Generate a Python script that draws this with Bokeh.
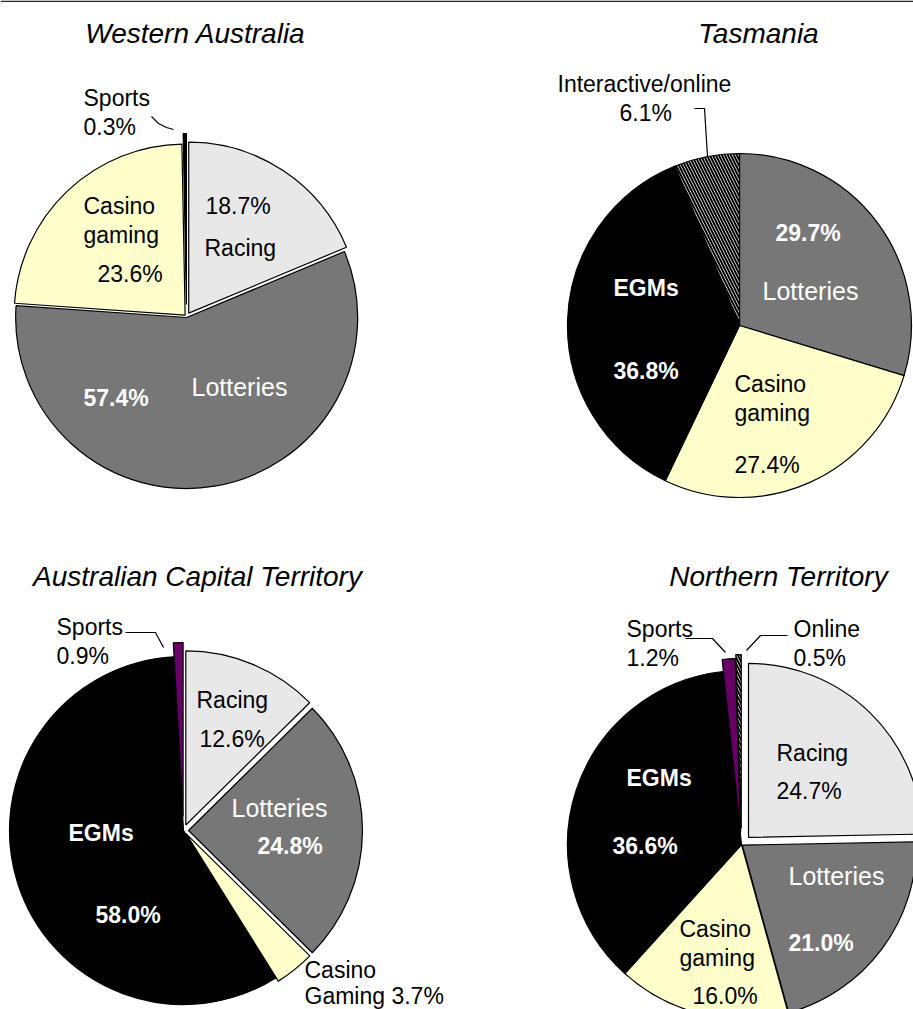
import math
from bokeh.plotting import figure
from bokeh.models import ColumnDataSource, Range1d
from bokeh.core.properties import value, field
from bokeh.embed import file_html
from bokeh.resources import INLINE

# ---------------- data ----------------
titles = ["Western Australia", "Tasmania", "Australian Capital Territory", "Northern Territory"]

wa_categories = ["Racing", "Lotteries", "Casino gaming", "Sports"]
wa_shares = [18.7, 57.4, 23.6, 0.3]

tas_categories = ["Lotteries", "Casino gaming", "EGMs", "Interactive/online"]
tas_shares = [29.7, 27.4, 36.8, 6.1]

act_categories = ["Racing", "Lotteries", "Casino Gaming", "EGMs", "Sports"]
act_shares = [12.6, 24.8, 3.7, 58.0, 0.9]

nt_categories = ["Racing", "Lotteries", "Casino gaming", "EGMs", "Sports", "Online"]
nt_shares = [24.7, 21.0, 16.0, 36.6, 1.2, 0.5]

# ---------------- style ----------------
colors = {"Racing": "#E8E8E8", "Lotteries": "#777777", "Casino gaming": "#FFFFCC",
          "Casino Gaming": "#FFFFCC", "EGMs": "#000000", "Sports": "#660066",
          "Interactive/online": "#FFFFFF", "Online": "#FFFFFF"}
hatched = {"Interactive/online", "Online"}

FONT = "Liberation Sans"
TITLE_SIZE = "28px"

W, H = 913, 1009
PH = 1009  # reference page height, used to flip pixel y into data y

# layout: (categories, shares, centre x, centre y (px), radius, explode by category, title x, title baseline, colour overrides)
pies = [
    (wa_categories, wa_shares, 186, 316, 171, {"Racing": 4, "Lotteries": 1, "Casino gaming": 2, "Sports": 12}, 195, 33,
     {"Sports": "#000000"}),
    (tas_categories, tas_shares, 739, 325, 172, {}, 758, 33, {}),
    (act_categories, act_shares, 183, 830, 174, {"Racing": 6, "Lotteries": 5, "Casino Gaming": 4, "Sports": 14}, 197, 576, {}),
    (nt_categories, nt_shares, 741, 844, 174, {"Racing": 10, "Lotteries": 1, "Sports": 12, "Online": 16}, 778, 576, {}),
]

# label layout: (pie index, category, template, x px, baseline px, kind)
labels = [
    (0, "Sports", "Sports", 83, 97, "dark"), (0, "Sports", "{p}", 83, 126, "dark"),
    (0, "Casino gaming", "Casino", 83, 205, "dark"), (0, "Casino gaming", "gaming", 83, 234, "dark"),
    (0, "Casino gaming", "{p}", 97, 273, "dark"),
    (0, "Racing", "{p}", 205, 205, "dark"), (0, "Racing", "Racing", 204, 247, "dark"),
    (0, "Lotteries", "{p}", 83, 397, "lightbold"), (0, "Lotteries", "Lotteries", 191, 386, "light"),

    (1, "Interactive/online", "Interactive/online", 557, 83, "dark"),
    (1, "Interactive/online", "{p}", 619, 112, "dark"),
    (1, "Lotteries", "{p}", 775, 232, "lightbold"), (1, "Lotteries", "Lotteries", 762, 290, "light"),
    (1, "EGMs", "EGMs", 613, 287, "lightbold"), (1, "EGMs", "{p}", 613, 370, "lightbold"),
    (1, "Casino gaming", "Casino", 734, 383, "dark"), (1, "Casino gaming", "gaming", 734, 412, "dark"),
    (1, "Casino gaming", "{p}", 734, 464, "dark"),

    (2, "Sports", "Sports", 56, 626, "dark"), (2, "Sports", "{p}", 56, 655, "dark"),
    (2, "Racing", "Racing", 196, 699, "dark"), (2, "Racing", "{p}", 199, 738, "dark"),
    (2, "Lotteries", "Lotteries", 231, 807, "light"), (2, "Lotteries", "{p}", 257, 845, "lightbold"),
    (2, "EGMs", "EGMs", 68, 832, "lightbold"), (2, "EGMs", "{p}", 95, 914, "lightbold"),
    (2, "Casino Gaming", "Casino", 304, 969, "dark"), (2, "Casino Gaming", "Gaming {p}", 304, 995, "dark"),

    (3, "Sports", "Sports", 626, 628, "dark"), (3, "Sports", "{p}", 626, 657, "dark"),
    (3, "Online", "Online", 793, 628, "dark"), (3, "Online", "{p}", 793, 657, "dark"),
    (3, "Racing", "Racing", 776, 752, "dark"), (3, "Racing", "{p}", 776, 790, "dark"),
    (3, "EGMs", "EGMs", 626, 777, "lightbold"), (3, "EGMs", "{p}", 612, 845, "lightbold"),
    (3, "Lotteries", "Lotteries", 788, 875, "light"), (3, "Lotteries", "{p}", 788, 942, "lightbold"),
    (3, "Casino gaming", "Casino", 679, 928, "dark"), (3, "Casino gaming", "gaming", 679, 957, "dark"),
    (3, "Casino gaming", "{p}", 692, 995, "dark"),
]

# leader lines (px)
leaders = [
    [(151, 116), (158, 123), (166, 127), (173, 129)],
    [(694, 108), (704, 108), (707, 156)],
    [(125, 632), (155, 632), (163, 647)],
    [(685, 638), (712, 638), (725, 652)],
    [(787, 635), (760, 635), (746, 650)],
]

p = figure(width=W, height=H, output_backend="svg", toolbar_location=None,
           x_range=Range1d(0, W), y_range=Range1d(PH - H, PH),
           x_axis_type=None, y_axis_type=None, min_border=0,
           background_fill_color="white", border_fill_color="white")
p.outline_line_color = None
p.xgrid.visible = False
p.ygrid.visible = False

# thin rule along the top edge of the page
p.line(x=[0, W], y=[PH - 0.8, PH - 0.8], line_color="#222222", line_width=1.6)

for cats, shares, cx, cy, r, explode, tx, ty, override in pies:
    d = dict(x=[], y=[], start=[], end=[], fill=[], hatch=[])
    cum = 0.0
    total = sum(shares)
    for c, s in zip(cats, shares):
        a0 = cum / total * 360.0
        a1 = (cum + s) / total * 360.0
        cum += s
        mid = math.radians((a0 + a1) / 2)
        e = explode.get(c, 0)
        d["x"].append(cx + e * math.sin(mid))
        d["y"].append(PH - cy + e * math.cos(mid))
        d["start"].append(math.radians(90 - a0))
        d["end"].append(math.radians(90 - a1))
        d["fill"].append(override.get(c, colors[c]))
        d["hatch"].append("left_diagonal_line" if c in hatched else "blank")
    src = ColumnDataSource(d)
    p.wedge(x="x", y="y", radius=r, start_angle="start", end_angle="end", direction="clock",
            fill_color="fill", line_color="black", line_width=1.2, source=src,
            hatch_pattern=field("hatch"), hatch_color="black", hatch_scale=6, hatch_weight=2)

# titles
p.text(x=[pp[6] for pp in pies], y=[PH - pp[7] for pp in pies], text=titles,
       text_font=value(FONT), text_font_style="italic", text_font_size=TITLE_SIZE,
       text_align="center", text_baseline="alphabetic", text_color="black")

# leader lines
p.multi_line(xs=[[pt[0] for pt in l] for l in leaders], ys=[[PH - pt[1] for pt in l] for l in leaders],
             line_color="black", line_width=1.2)

# labels
share_lookup = [dict(zip(pp[0], pp[1])) for pp in pies]
styles = {"dark": ("black", "normal", "23px"), "light": ("white", "normal", "25px"),
          "lightbold": ("white", "bold", "23px")}
for kind, (col, fs, size) in styles.items():
    sel = [l for l in labels if l[5] == kind]
    txt = [l[2].format(p=f"{share_lookup[l[0]][l[1]]:.1f}%") for l in sel]
    p.text(x=[l[3] for l in sel], y=[PH - l[4] for l in sel], text=txt,
           text_font=value(FONT), text_font_size=size, text_font_style=fs,
           text_color=col, text_align="left", text_baseline="alphabetic")

open("out.html", "w").write(file_html(p, INLINE))
